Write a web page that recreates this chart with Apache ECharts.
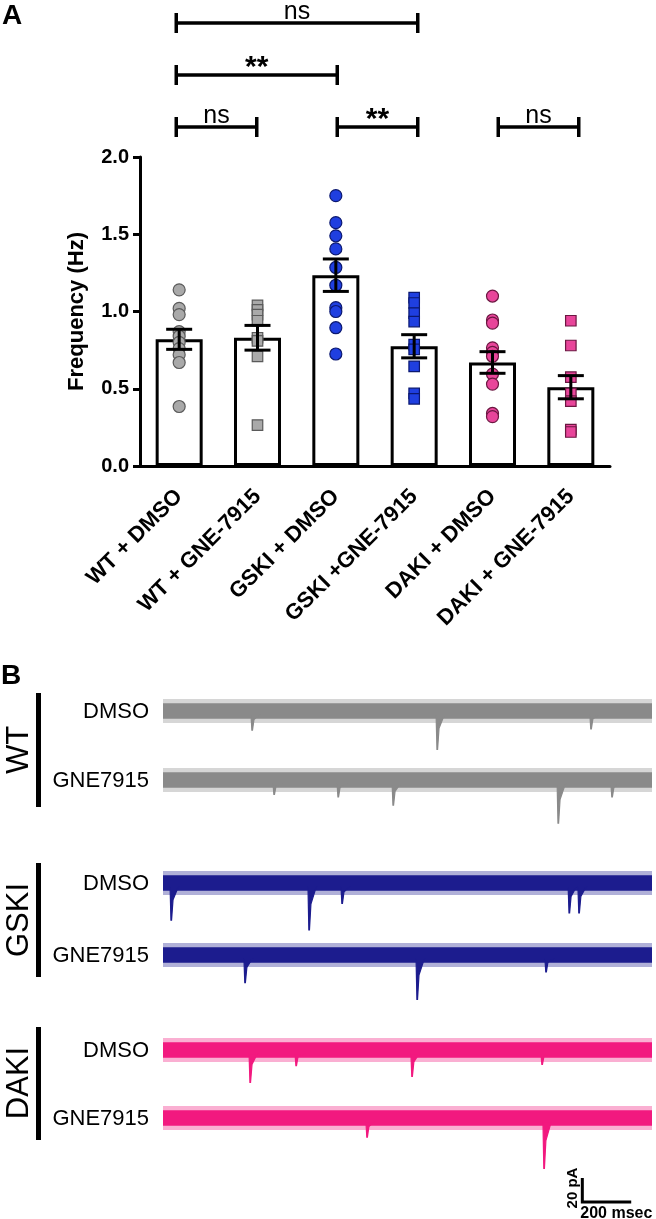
<!DOCTYPE html>
<html><head><meta charset="utf-8">
<script src="https://cdn.jsdelivr.net/npm/echarts@6/dist/echarts.min.js"></script>
<style>html,body{margin:0;padding:0;background:#fff}#c{width:656px;height:1219px}</style>
</head><body><div id="c"></div>
<script>
// ---------- Panel A data ----------
const categories = ['WT + DMSO','WT + GNE-7915','GSKI + DMSO','GSKI +GNE-7915','DAKI + DMSO','DAKI + GNE-7915'];
const yTickValues = [0, 0.5, 1.0, 1.5, 2.0];
const means = [0.82, 0.83, 1.235, 0.775, 0.67, 0.51];
const sems  = [0.065, 0.08, 0.105, 0.075, 0.07, 0.075];
const wtDmsoPts   = [1.14, 1.02, 0.98, 0.87, 0.84, 0.80, 0.76, 0.72, 0.67, 0.385];
const wtGnePts    = [1.04, 1.01, 0.98, 0.94, 0.83, 0.81, 0.71, 0.265];
const gskiDmsoPts = [1.75, 1.575, 1.49, 1.405, 1.285, 1.17, 1.025, 1.0, 0.895, 0.725];
const gskiGnePts  = [1.09, 1.055, 0.99, 0.935, 0.785, 0.755, 0.645, 0.47, 0.435];
const dakiDmsoPts = [1.10, 0.945, 0.925, 0.765, 0.735, 0.71, 0.595, 0.53, 0.34, 0.32];
const dakiGnePts  = [0.94, 0.78, 0.575, 0.47, 0.42, 0.235, 0.22];
// brackets: [fromIndex, toIndex, level]
const brackets = [[0,3,3],[0,2,2],[0,1,1],[2,3,1],[4,5,1]];
const bracketLabels = ['ns','**','ns','**','ns'];

// ---------- Panel B data (time ms, event amplitude pA) ----------
const groupNames = ['WT','GSKI','DAKI'];
const conditionNames = ['DMSO','GNE7915'];
const wtDmsoEvents   = [[364,16],[1121,32],[1750,15]];
const wtGneEvents    = [[454,12],[716,14],[941,21],[1616,36],[1836,14]];
const gskiDmsoEvents = [[33,31],[597,39],[732,17],[1661,25],[1701,25]];
const gskiGneEvents  = [[335,23],[1039,37],[1566,14]];
const dakiDmsoEvents = [[356,27],[544,13],[1018,22],[1550,12]];
const dakiGneEvents  = [[834,16],[1558,42]];
const traceDurationMs = 2000;
const noiseAmpPa = 10;
const scaleBarMs = 200, scaleBarPa = 20, scaleBarStartMs = 1715;
const scaleLabels = ['20 pA','200 msec'];

// ---------- styles ----------
const FONT = "'Liberation Sans', Arial, Helvetica, sans-serif";
const groupColors = ['#8a8a8a','#1c1c8e','#f2197f'];
const dotFill = ['#a9a9a9','#a9a9a9','#1f3fe0','#1f3fe0','#e8459a','#e8459a'];
const dotBorder = ['#5a5a5a','#5a5a5a','#0b1870','#0b1870','#6b1741','#6b1741'];
const allPts = [wtDmsoPts, wtGnePts, gskiDmsoPts, gskiGnePts, dakiDmsoPts, dakiGnePts];
const traces = [wtDmsoEvents, wtGneEvents, gskiDmsoEvents, gskiGneEvents, dakiDmsoEvents, dakiGneEvents];
const traceCenters = [711, 780, 883, 955, 1050, 1118];

const chart = echarts.init(document.getElementById('c'), null, {renderer:'canvas'});

const grids = [
  {left:140, width:470, top:157, height:309},   // bars
  {left:136, width:483, top:23, height:104}     // brackets
];
const xAxes = [
  {gridIndex:0, type:'category', data:categories,
   axisLine:{lineStyle:{color:'#000', width:3}},
   axisTick:{alignWithLabel:true, length:7, lineStyle:{color:'#000', width:3}},
   axisLabel:{rotate:45, interval:0, margin:27, color:'#000', fontSize:22, fontWeight:'bold', fontFamily:FONT}},
  {gridIndex:1, type:'category', data:categories, show:false}
];
const yAxes = [
  {gridIndex:0, type:'value', min:0, max:2, interval:0.5,
   axisLine:{show:true, lineStyle:{color:'#000', width:3}},
   axisTick:{show:true, length:7, lineStyle:{color:'#000', width:3}},
   splitLine:{show:false},
   axisLabel:{margin:11, color:'#000', fontSize:20, fontWeight:'bold', fontFamily:FONT,
              formatter:v => yTickValues.includes(v) ? v.toFixed(1) : ''},
   name:'Frequency (Hz)', nameLocation:'middle', nameGap:52,
   nameTextStyle:{color:'#000', fontSize:22, fontWeight:'bold', fontFamily:FONT}},
  {gridIndex:1, type:'value', min:1, max:3, show:false}
];

const series = [];
series.push({type:'bar', xAxisIndex:0, yAxisIndex:0, data:means, barWidth:47, z:1,
  itemStyle:{color:'#fff', borderColor:'#000', borderWidth:3}, animation:false});
allPts.forEach((pts, i) => {
  series.push({type:'scatter', xAxisIndex:0, yAxisIndex:0, z:3,
    symbol: i % 2 === 0 ? 'circle' : 'rect', symbolSize: i % 2 === 0 ? 12 : 10.5,
    itemStyle:{color:dotFill[i], borderColor:dotBorder[i], borderWidth:1.2, opacity:1},
    data: pts.map(v => [categories[i], v]), animation:false});
});
series.push({type:'custom', xAxisIndex:0, yAxisIndex:0, z:5, animation:false,
  data: means.map((m, i) => [i, m, sems[i]]),
  renderItem(params, api){
    const i = api.value(0), m = api.value(1), s = api.value(2);
    const top = api.coord([i, m + s]), bot = api.coord([i, m - s]);
    const st = {stroke:'#000', lineWidth:3};
    return {type:'group', children:[
      {type:'line', shape:{x1:top[0], y1:top[1], x2:bot[0], y2:bot[1]}, style:st},
      {type:'line', shape:{x1:top[0]-13, y1:top[1], x2:top[0]+13, y2:top[1]}, style:st},
      {type:'line', shape:{x1:bot[0]-13, y1:bot[1], x2:bot[0]+13, y2:bot[1]}, style:st}
    ]};
  }});
series.push({type:'custom', xAxisIndex:1, yAxisIndex:1, z:5, animation:false,
  data: brackets,
  renderItem(params, api){
    const a = api.coord([api.value(0), api.value(2)]);
    const b = api.coord([api.value(1), api.value(2)]);
    const st = {stroke:'#000', lineWidth:3.5};
    const lab = bracketLabels[params.dataIndex];
    const star = lab === '**';
    return {type:'group', children:[
      {type:'line', shape:{x1:a[0], y1:a[1], x2:b[0], y2:b[1]}, style:st},
      {type:'line', shape:{x1:a[0], y1:a[1]-10, x2:a[0], y2:a[1]+10}, style:st},
      {type:'line', shape:{x1:b[0], y1:b[1]-10, x2:b[0], y2:b[1]+10}, style:st},
      {type:'text', x:(a[0]+b[0])/2, y: star ? a[1]+8 : a[1]+2,
       style:{text:lab, fill:'#000', fontSize: star ? 30 : 25, fontWeight: star ? 'bold' : 'normal',
              fontFamily:FONT, textAlign:'center', textVerticalAlign:'bottom'}}
    ]};
  }});

// ---------- Panel B ----------
traces.forEach((ev, k) => {
  const gi = grids.length;
  grids.push({left:163, width:489, top:traceCenters[k]-24, height:84});
  xAxes.push({gridIndex:gi, type:'value', min:0, max:traceDurationMs, show:false});
  yAxes.push({gridIndex:gi, type:'value', min:-50, max:20, show:false});
  const color = groupColors[Math.floor(k/2)];
  series.push({type:'custom', xAxisIndex:gi, yAxisIndex:gi, animation:false, data: ev,
    renderItem(params, api){
      const t = api.value(0), amp = api.value(1);
      const ch = [];
      if (params.dataIndex === 0) {
        const o1 = api.coord([0, noiseAmpPa]), o2 = api.coord([traceDurationMs, -noiseAmpPa]);
        ch.push({type:'rect', shape:{x:o1[0], y:o1[1], width:o2[0]-o1[0], height:o2[1]-o1[1]},
                 style:{fill:color, opacity:0.35}});
        const i1 = api.coord([0, noiseAmpPa*0.65]), i2 = api.coord([traceDurationMs, -noiseAmpPa*0.65]);
        ch.push({type:'rect', shape:{x:i1[0], y:i1[1], width:i2[0]-i1[0], height:i2[1]-i1[1]},
                 style:{fill:color}});
      }
      const pts = [[t-4,-3],[t-0.5,-amp],[t+2,-amp],[t+8,-amp*0.45],[t+30,-3]].map(p => api.coord(p));
      ch.push({type:'polygon', shape:{points:pts}, style:{fill:color, stroke:color, lineWidth:1.2}});
      return {type:'group', children:ch};
    }});
});
// scale bar grid
{
  const gi = grids.length;
  grids.push({left:163, width:489, top:1178, height:24});
  xAxes.push({gridIndex:gi, type:'value', min:0, max:traceDurationMs, show:false});
  yAxes.push({gridIndex:gi, type:'value', min:0, max:scaleBarPa, show:false});
  series.push({type:'custom', xAxisIndex:gi, yAxisIndex:gi, animation:false,
    data:[[scaleBarStartMs, scaleBarMs, scaleBarPa]],
    renderItem(params, api){
      const t0 = api.value(0), dt = api.value(1), dp = api.value(2);
      const p0 = api.coord([t0, dp]), p1 = api.coord([t0, 0]), p2 = api.coord([t0+dt, 0]);
      return {type:'group', children:[
        {type:'polyline', shape:{points:[p0,p1,p2]}, style:{stroke:'#000', lineWidth:3, fill:null}},
        {type:'text', x:p1[0]-9, y:(p0[1]+p1[1])/2 - 2, rotation:Math.PI/2,
         style:{text:scaleLabels[0], fill:'#000', fontSize:15, fontWeight:'bold', fontFamily:FONT,
                textAlign:'center', textVerticalAlign:'middle'}},
        {type:'text', x:p1[0]-2, y:p1[1]+4,
         style:{text:scaleLabels[1], fill:'#000', fontSize:16, fontWeight:'bold', fontFamily:FONT,
                textAlign:'left', textVerticalAlign:'top'}}
      ]};
    }});
}

// ---------- graphic text ----------
const graphic = [
  {type:'text', x:2, y:16, style:{text:'A', fill:'#000', fontSize:28, fontWeight:'bold', fontFamily:FONT, textVerticalAlign:'middle'}},
  {type:'text', x:1, y:676, style:{text:'B', fill:'#000', fontSize:28, fontWeight:'bold', fontFamily:FONT, textVerticalAlign:'middle'}}
];
const groupCenters = [750, 920, 1083];
const groupBars = [[693,807],[863,977],[1027,1140]];
groupNames.forEach((g, j) => {
  graphic.push({type:'text', x:19, y:groupCenters[j], rotation:Math.PI/2,
    style:{text:g, fill:'#000', fontSize:31, fontFamily:FONT, textAlign:'center', textVerticalAlign:'middle'}});
  graphic.push({type:'line', shape:{x1:38.5, y1:groupBars[j][0], x2:38.5, y2:groupBars[j][1]},
    style:{stroke:'#000', lineWidth:5}});
});
traceCenters.forEach((c, k) => {
  graphic.push({type:'text', x:149, y:c+1,
    style:{text:conditionNames[k%2], fill:'#000', fontSize:22, fontFamily:FONT, textAlign:'right', textVerticalAlign:'middle'}});
});

chart.setOption({
  animation:false,
  backgroundColor:'#fff',
  grid:grids, xAxis:xAxes, yAxis:yAxes, series, graphic
});
</script></body></html>
